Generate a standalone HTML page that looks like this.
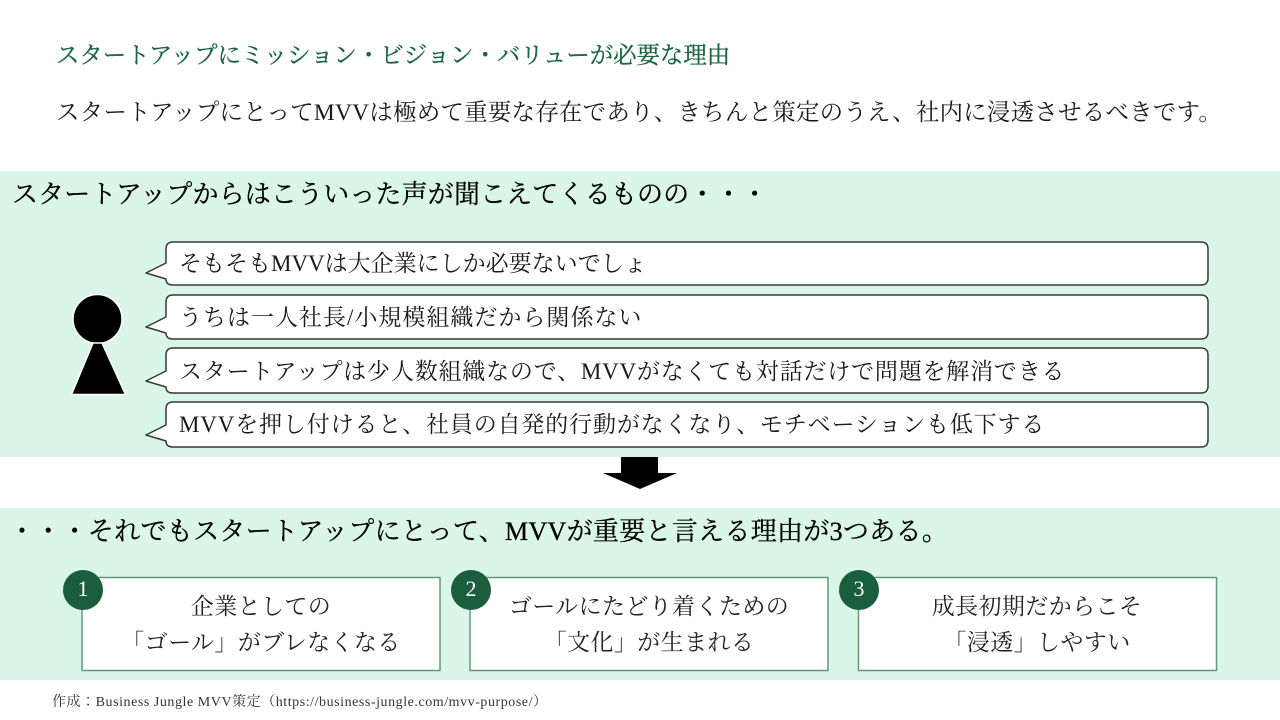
<!DOCTYPE html>
<html lang="ja">
<head>
<meta charset="utf-8">
<style>
  html,body{margin:0;padding:0;}
  body{width:1280px;height:720px;position:relative;overflow:hidden;background:#fff;
       font-family:"Liberation Serif","Noto Serif CJK SC",serif;color:#111;}
  .t{position:absolute;white-space:nowrap;}
  svg{position:absolute;left:0;top:0;}
  .box{position:absolute;width:358px;text-align:center;font-size:23px;line-height:36px;letter-spacing:0.4px;color:#222;}
</style>
</head>
<body>
<svg width="1280" height="720" viewBox="0 0 1280 720">
  <!-- bands -->
  <rect x="0" y="171" width="1280" height="286" fill="#daf6e9"/>
  <rect x="0" y="508" width="1280" height="172" fill="#daf6e9"/>

  <!-- person -->
  <circle cx="97.5" cy="319" r="24.5" fill="#000" stroke="#fff" stroke-width="1.5"/>
  <polygon points="93,343 102,343 125.5,394.5 71.5,394.5" fill="#000" stroke="#fff" stroke-width="1.5"/>

  <!-- bubbles -->
  <g fill="#fff" stroke="#383838" stroke-width="1.5" stroke-linejoin="round">
    <path d="M173,242 H1201 Q1208,242 1208,249 V278 Q1208,285 1201,285 H173 Q166,285 166,279 L146,273 L166,263 V249 Q166,242 173,242 Z"/>
    <path d="M173,295 H1201 Q1208,295 1208,302 V332 Q1208,339 1201,339 H173 Q166,339 166,333 L146,327 L166,317 V302 Q166,295 173,295 Z"/>
    <path d="M173,348 H1201 Q1208,348 1208,355 V386 Q1208,393 1201,393 H173 Q166,393 166,387 L146,381 L166,371 V355 Q166,348 173,348 Z"/>
    <path d="M173,402 H1201 Q1208,402 1208,409 V440 Q1208,447 1201,447 H173 Q166,447 166,441 L146,435 L166,425 V409 Q166,402 173,402 Z"/>
  </g>

  <!-- arrow -->
  <polygon points="621,457 658,457 658,473 677,473 640,489 603,473 621,473" fill="#000"/>

  <!-- reason boxes -->
  <g fill="#fff" stroke="#64977b" stroke-width="1.5">
    <rect x="82" y="577.5" width="358" height="93"/>
    <rect x="470" y="577.5" width="358" height="93"/>
    <rect x="858.5" y="577.5" width="358" height="93"/>
  </g>
  <g fill="#1b5e3d">
    <circle cx="83" cy="590" r="20"/>
    <circle cx="471" cy="590" r="20"/>
    <circle cx="859" cy="590" r="20"/>
  </g>
  <g fill="#fff" font-family="Liberation Serif, serif" font-size="22" text-anchor="middle">
    <text x="83" y="596">1</text>
    <text x="471" y="596">2</text>
    <text x="859" y="596">3</text>
  </g>
</svg>

<div class="t" style="left:56px;top:41px;font-size:23.5px;line-height:30px;letter-spacing:-0.1px;color:#1a6542;-webkit-text-stroke:0.3px #1a6542;">スタートアップにミッション・ビジョン・バリューが必要な理由</div>

<div class="t" style="left:56px;top:98px;font-size:23.5px;line-height:30px;letter-spacing:0.2px;color:#1a1a1a;">スタートアップにとってMVVは極めて重要な存在であり、きちんと策定のうえ、社内に浸透させるべきです。</div>

<div class="t" style="left:12px;top:180px;font-size:26px;line-height:30px;letter-spacing:0.15px;color:#000;-webkit-text-stroke:0.3px #000;">スタートアップからはこういった声が聞こえてくるものの・・・</div>

<div class="t" style="left:179px;top:249px;font-size:23px;line-height:30px;letter-spacing:0px;color:#1a1a1a;">そもそもMVVは大企業にしか必要ないでしょ</div>
<div class="t" style="left:179px;top:302.5px;font-size:23px;line-height:30px;letter-spacing:1px;color:#1a1a1a;">うちは一人社長/小規模組織だから関係ない</div>
<div class="t" style="left:179px;top:356.5px;font-size:23px;line-height:30px;letter-spacing:0.8px;color:#1a1a1a;">スタートアップは少人数組織なので、MVVがなくても対話だけで問題を解消できる</div>
<div class="t" style="left:179px;top:410px;font-size:23px;line-height:30px;letter-spacing:0.85px;color:#1a1a1a;">MVVを押し付けると、社員の自発的行動がなくなり、モチベーションも低下する</div>

<div class="t" style="left:9px;top:517px;font-size:26px;line-height:30px;letter-spacing:0.3px;color:#000;-webkit-text-stroke:0.3px #000;">・・・それでもスタートアップにとって、MVVが重要と言える理由が3つある。</div>

<div class="box" style="left:82px;top:589px;">企業としての<br>「ゴール」がブレなくなる</div>
<div class="box" style="left:470px;top:589px;">ゴールにたどり着くための<br>「文化」が生まれる</div>
<div class="box" style="left:858px;top:589px;">成長初期だからこそ<br>「浸透」しやすい</div>

<div class="t" style="left:52px;top:693px;font-size:14px;line-height:20px;letter-spacing:0.55px;color:#333;">作成：Business Jungle MVV策定（https://business-jungle.com/mvv-purpose/）</div>
</body>
</html>
